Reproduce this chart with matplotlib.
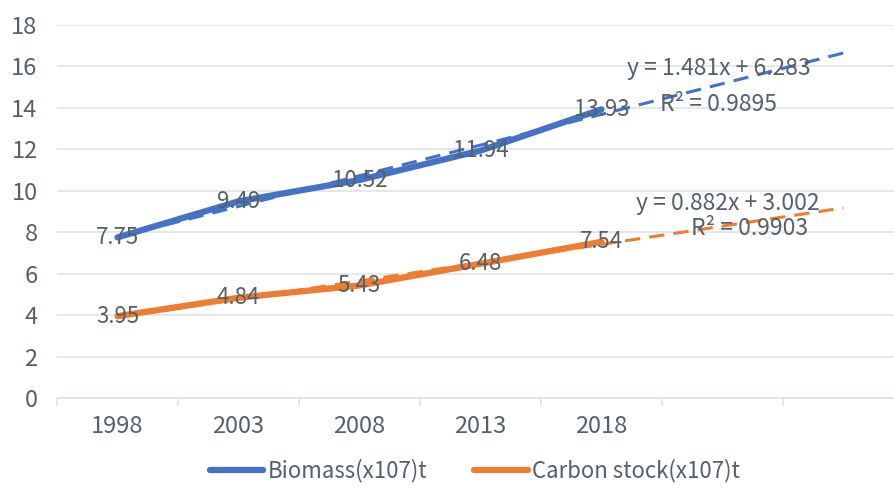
import numpy as np
import matplotlib
matplotlib.use("Agg")
import matplotlib.pyplot as plt

plt.rcParams['font.family'] = ['Noto Sans CJK SC', 'DejaVu Sans']
plt.rcParams['font.weight'] = 'light'
plt.rcParams['axes.unicode_minus'] = False

years = ['1998', '2003', '2008', '2013', '2018']
biomass = [7.75, 9.49, 10.52, 11.94, 13.93]
carbon = [3.95, 4.84, 5.43, 6.48, 7.54]

# linear trend coefficients (slope, intercept) and R^2
biomass_fit = (1.481, 6.283, 0.9895)
carbon_fit = (0.882, 3.002, 0.9903)

blue = '#4472c4'
orange = '#ed7d31'
txt = '#56606b'
grid = '#dde1e8'

fig = plt.figure(figsize=(8.95, 4.93), dpi=100)
ax = fig.add_axes([57 / 895, 95 / 493, 847 / 895, 373 / 493])

x = np.arange(1, len(years) + 1)

# trend lines, extended two periods forward
xt = np.array([1, len(years) + 2])
for (k, b, r2), c in [(biomass_fit, blue), (carbon_fit, orange)]:
    ax.plot(xt, k * xt + b, color=c, lw=2.2, ls=(0, (5, 3)), zorder=2)

ax.plot(x, biomass, color=blue, lw=4.5, solid_capstyle='round', label='Biomass(x107)t', zorder=3)
ax.plot(x, carbon, color=orange, lw=4.5, solid_capstyle='round', label='Carbon stock(x107)t', zorder=3)

for xs, ys in [(x, biomass), (x, carbon)]:
    for xi, yi in zip(xs, ys):
        ax.text(xi, yi, '%.2f' % yi, ha='center', va='center', fontsize=16, color=txt, zorder=4)

# equations
ax.text(5.97, 15.88, 'y = %.3fx + %.3f' % biomass_fit[:2], ha='center', va='center', fontsize=16.5, color=txt)
ax.text(5.97, 14.14, 'R² = %.4f' % biomass_fit[2], ha='center', va='center', fontsize=16.5, color=txt)
ax.text(6.04, 9.39, 'y = %.3fx + %.3f' % carbon_fit[:2], ha='center', va='center', fontsize=16.5, color=txt)
ax.text(6.22, 8.2, 'R² = %.4f' % carbon_fit[2], ha='center', va='center', fontsize=16.5, color=txt)

ax.set_xlim(0.5, 7.5)
ax.set_ylim(0, 18)
ax.set_yticks(range(0, 19, 2))
ax.set_xticks(x)
ax.set_xticklabels(years)
ax.set_xticks(np.arange(0.5, 8, 1), minor=True)

ax.grid(axis='y', color=grid, lw=1.1)
ax.set_axisbelow(True)
for s in ['top', 'right', 'left']:
    ax.spines[s].set_visible(False)
ax.spines['bottom'].set_color(grid)
ax.spines['bottom'].set_linewidth(1.1)

ax.tick_params(axis='y', length=0, pad=14, labelsize=17, labelcolor=txt)
ax.tick_params(axis='x', which='major', length=0, pad=12, labelsize=17, labelcolor=txt)
ax.tick_params(axis='x', which='minor', length=6, width=1.1, color=grid)

fig.legend(loc='center', bbox_to_anchor=(475 / 895, 1 - 471 / 493), ncol=2, frameon=False,
           fontsize=16, labelcolor=txt, handlelength=2.4, handletextpad=0.2, columnspacing=2.1)

fig.savefig('out.png', dpi=100)
